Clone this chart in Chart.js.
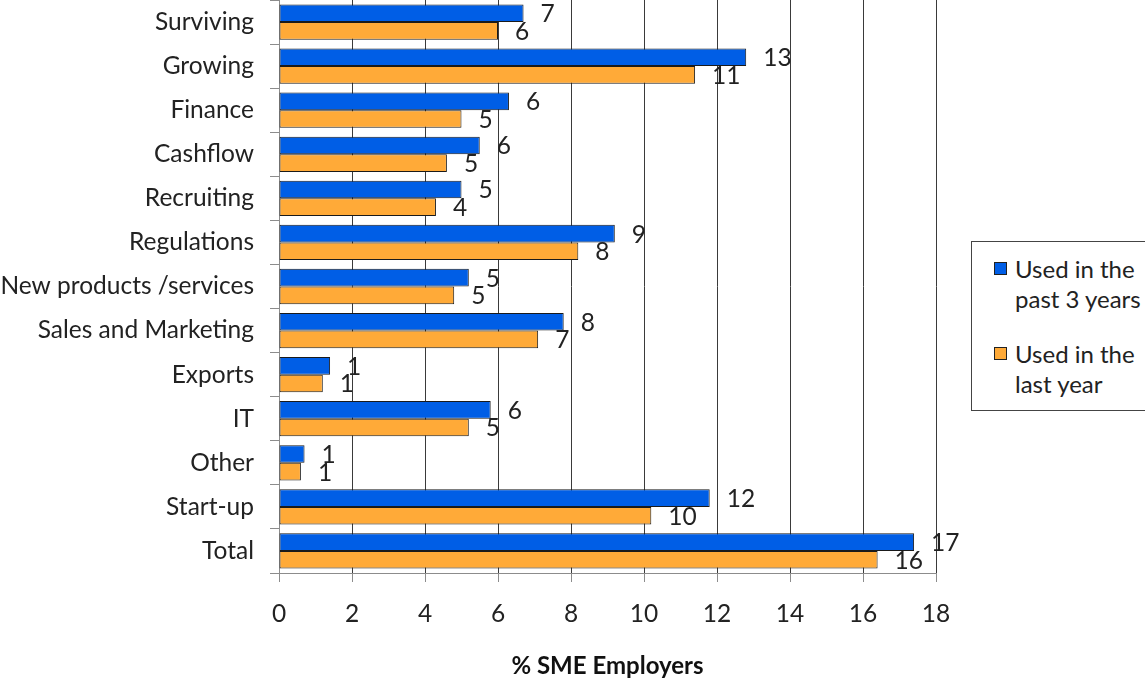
<!DOCTYPE html>
<html>
<head>
<meta charset="utf-8">
<title>Use of business support by SME employers</title>
<script src="https://cdn.jsdelivr.net/npm/chart.js@4.4.1/dist/chart.umd.min.js"></script>
<style>
  html, body { margin: 0; padding: 0; background: #fff; overflow: hidden; }
  #wrap { position: relative; width: 1145px; height: 682px; }
  #legend {
    position: absolute; left: 971px; top: 241px; width: 200px; height: 170px;
    border: 1px solid #444; box-sizing: border-box; background: #fff;
    font-family: Lato, "DejaVu Sans", sans-serif; font-size: 24px; color: #222;
  }
  .item { position: absolute; left: 22px; line-height: 30px; }
  .sw { position: absolute; left: 0; top: 8px; width: 11px; height: 11px; border: 1px solid #222; }
  .txt { position: absolute; left: 21px; white-space: nowrap; }
</style>
</head>
<body>
<div id="wrap">
  <canvas id="c" width="1145" height="682"></canvas>
  <div id="legend"></div>
</div>
<script>
// Reasons for using business support, % of SME employers
const categories = ['Surviving', 'Growing', 'Finance', 'Cashflow', 'Recruiting', 'Regulations',
  'New products /services', 'Sales and Marketing', 'Exports', 'IT', 'Other', 'Start-up', 'Total'];
const pastThreeYears = [6.7, 12.8, 6.3, 5.5, 5.0, 9.2, 5.2, 7.8, 1.4, 5.8, 0.7, 11.8, 17.4];
const lastYear = [6.0, 11.4, 5.0, 4.6, 4.3, 8.2, 4.8, 7.1, 1.2, 5.2, 0.6, 10.2, 16.4];
const seriesNames = [['Used in the', 'past 3 years'], ['Used in the', 'last year']];
const xTicks = [0, 2, 4, 6, 8, 10, 12, 14, 16, 18];

const BLUE = '#005EE6';
const ORANGE = '#FFAA38';
const FONT = 'Lato, "DejaVu Sans", sans-serif';

// Rounded value printed just past the end of each bar
const valueLabels = {
  id: 'valueLabels',
  afterDatasetsDraw(chart) {
    const ctx = chart.ctx;
    ctx.save();
    ctx.font = '24.5px ' + FONT;
    ctx.fillStyle = '#222';
    ctx.textAlign = 'left';
    ctx.textBaseline = 'middle';
    chart.data.datasets.forEach((ds, i) => {
      chart.getDatasetMeta(i).data.forEach((bar, j) => {
        ctx.fillText(String(Math.round(ds.data[j])), bar.x + 17, bar.y + 1);
      });
    });
    ctx.restore();
  }
};

new Chart(document.getElementById('c'), {
  type: 'bar',
  data: {
    labels: categories,
    datasets: [
      { label: seriesNames[0].join(' '), data: pastThreeYears, backgroundColor: BLUE,
        borderColor: '#1a1a1a', borderWidth: 1, borderSkipped: false },
      { label: seriesNames[1].join(' '), data: lastYear, backgroundColor: ORANGE,
        borderColor: '#1a1a1a', borderWidth: 1, borderSkipped: false }
    ]
  },
  options: {
    indexAxis: 'y',
    responsive: false,
    animation: false,
    devicePixelRatio: 1,
    layout: { padding: { top: 0, right: 209, bottom: 0, left: 0 } },
    datasets: { bar: { categoryPercentage: 0.8, barPercentage: 1.0 } },
    plugins: { legend: { display: false }, tooltip: { enabled: false } },
    scales: {
      x: {
        min: 0, max: 18,
        afterBuildTicks(scale) { scale.ticks = xTicks.map(v => ({ value: v })); },
        afterFit(scale) { scale.height = 109; },
        grid: {
          color: c => (c.tick && c.tick.value === 0 ? 'rgba(0,0,0,0)' : '#3a3a3a'),
          lineWidth: 1,
          tickColor: '#8c8c8c',
          tickLength: 9
        },
        border: { color: '#8c8c8c', width: 1 },
        ticks: { color: '#222', font: { family: FONT, size: 24.5 }, padding: 17, maxRotation: 0 },
        title: {
          display: true, text: '% SME Employers', color: '#111',
          font: { family: FONT, size: 24, weight: 'bold' }, padding: { top: 0, bottom: 1 }
        }
      },
      y: {
        afterFit(scale) {
          scale.width = 279;
          scale.paddingTop = 0;
          scale.paddingBottom = 0;
        },
        grid: { offset: true, drawOnChartArea: false, color: '#8c8c8c', tickLength: 9 },
        border: { color: '#8c8c8c', width: 1 },
        ticks: { color: '#222', font: { family: FONT, size: 24.5 }, padding: 16, autoSkip: false }
      }
    }
  },
  plugins: [valueLabels]
});

// Legend box on the right
const legend = document.getElementById('legend');
[[BLUE, 12], [ORANGE, 97]].forEach(([col, top], i) => {
  const item = document.createElement('div');
  item.className = 'item';
  item.style.top = top + 'px';
  const sw = document.createElement('div');
  sw.className = 'sw';
  sw.style.background = col;
  const txt = document.createElement('div');
  txt.className = 'txt';
  txt.innerHTML = seriesNames[i].join('<br>');
  item.appendChild(sw);
  item.appendChild(txt);
  legend.appendChild(item);
});
</script>
</body>
</html>
